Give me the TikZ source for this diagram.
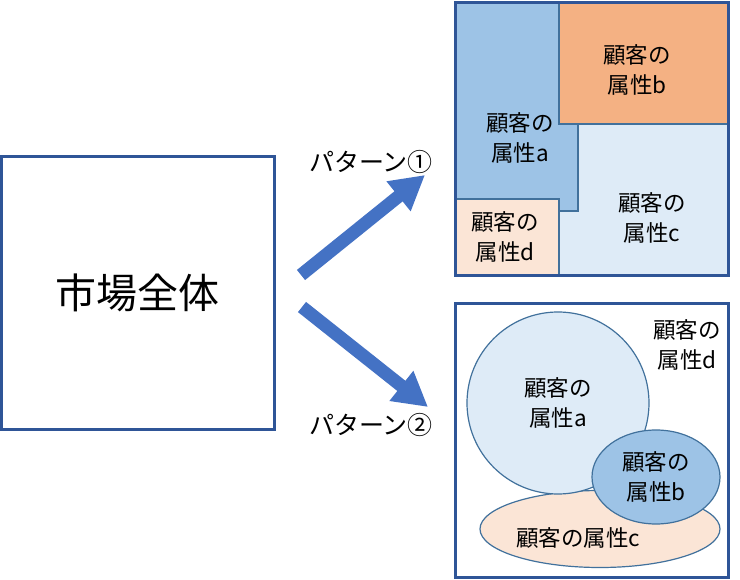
\documentclass[tikz,border=0pt]{standalone}
\usepackage{fontspec}
\setmainfont{Noto Sans CJK JP}
\usetikzlibrary{arrows.meta,shapes.geometric}
\definecolor{framecol}{RGB}{47,85,151}
\definecolor{arrowcol}{RGB}{68,114,196}
\definecolor{acol}{RGB}{157,195,230}
\definecolor{bcol}{RGB}{244,177,131}
\definecolor{ccol}{RGB}{222,235,247}
\definecolor{dcol}{RGB}{251,229,214}
\definecolor{edgecol}{RGB}{65,113,156}
\tikzset{
  % outer frame
  framebox/.style={draw=framecol, line width=3pt},
  % attribute region
  region/.style={draw=edgecol, line width=1.2pt, fill=#1},
  region/.default={ccol},
  % attribute label
  attrlabel/.style={align=center, inner sep=0pt, font=\fontsize{22.5}{30}\selectfont},
  % pattern label
  patlabel/.style={inner sep=0pt, font=\fontsize{25}{28}\selectfont},
  % block arrow
  blockarrow/.style={draw=arrowcol, line width=13pt,
    -{Triangle[length=34pt,width=36pt]}},
}
\begin{document}
\begin{tikzpicture}[x=1pt,y=-1pt]
  \useasboundingbox (0,0) rectangle (740,580);

  % whole market
  \node[framebox, minimum width=273pt, minimum height=273pt, inner sep=0pt,
        font=\fontsize{41}{44}\selectfont] (whole) at (138,293) {市場全体};

  % pattern 1
  \path[region=ccol] (455,3) rectangle (728,276);
  \path[region=acol] (455,3) rectangle (578,211);
  \path[region=bcol] (559,3) rectangle (728,124);
  \path[region=dcol] (455,199) rectangle (559,276);
  \draw[framebox] (455,3) rectangle (728,276);
  \node[attrlabel] (pa) at (520,138) {顧客の\\属性a};
  \node[attrlabel] (pb) at (637,70) {顧客の\\属性b};
  \node[attrlabel] (pc) at (652,218) {顧客の\\属性c};
  \node[attrlabel] (pd) at (505,237) {顧客の\\属性d};

  % pattern 2
  \draw[framebox, fill=white] (455,304) rectangle (728,577);
  \node[region=dcol, ellipse, minimum width=240pt, minimum height=77pt] (qc) at (600,529) {};
  \node[region=ccol, circle, minimum size=182pt] (qa) at (558,403) {};
  \node[region=acol, ellipse, minimum width=128pt, minimum height=94pt] (qb) at (656,477) {};
  \node[attrlabel] at (qa) {顧客の\\属性a};
  \node[attrlabel] at (qb) {顧客の\\属性b};
  \node[attrlabel] (qcl) at (578,538) {顧客の属性c};
  \node[attrlabel] (qd) at (687,345) {顧客の\\属性d};

  % arrows
  \coordinate (up) at (301,275);
  \coordinate (down) at (302,307);
  \coordinate (p1) at (425,175);
  \coordinate (p2) at (428,407);
  \draw[blockarrow] (up) -- (p1);
  \draw[blockarrow] (down) -- (p2);
  \node[patlabel] (lab1) at (371,162) {パターン①};
  \node[patlabel] (lab2) at (371,425) {パターン②};
\end{tikzpicture}
\end{document}
